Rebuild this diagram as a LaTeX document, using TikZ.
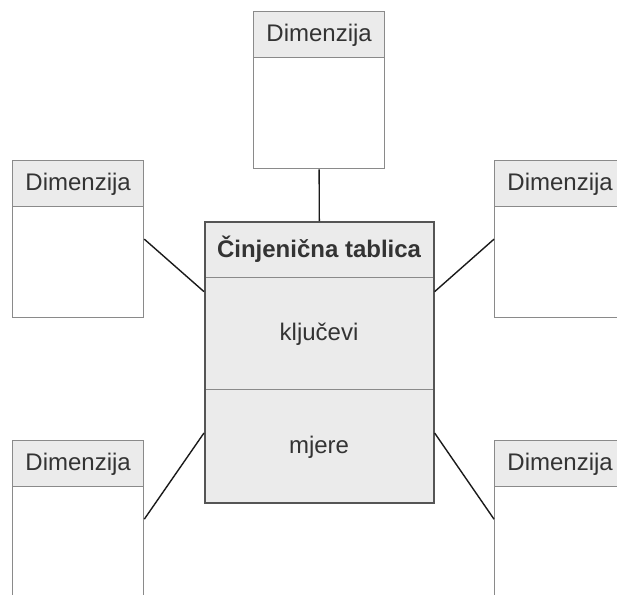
\documentclass[tikz,border=0pt]{standalone}
\usepackage{fontspec}
\setmainfont{Liberation Sans}
\usetikzlibrary{calc}
\definecolor{boxline}{HTML}{8A8A8A}
\definecolor{hdrfill}{HTML}{EBEBEB}
\definecolor{factline}{HTML}{555555}
\definecolor{txt}{HTML}{333333}
\definecolor{conn}{HTML}{1A1A1A}
\tikzset{
  dimbox/.style={draw=boxline, line width=1.3pt, fill=white, minimum width=131pt, minimum height=157pt, anchor=north west, inner sep=0pt},
  dimhdr/.style={draw=boxline, line width=1.3pt, fill=hdrfill, minimum width=131pt, minimum height=46pt, anchor=north west, inner sep=0pt, text=txt, font=\fontsize{24}{28}\selectfont, text height=17pt, text depth=3pt},
  factpart/.style={draw=boxline, line width=1.1pt, fill=hdrfill, minimum width=229pt, anchor=north west, inner sep=0pt, text=txt, font=\fontsize{24}{28}\selectfont, text height=17pt, text depth=3pt},
  factouter/.style={draw=factline, line width=1.6pt, minimum width=229pt, minimum height=281pt, anchor=north west, inner sep=0pt},
  conline/.style={draw=conn, line width=1.4pt}
}
\begin{document}
\begin{tikzpicture}[x=1pt, y=-1pt]
\useasboundingbox (0,0) rectangle (617,594);
\clip (0,0) rectangle (617,594);
% dimension boxes
\node[dimbox] (dtop) at (253,11) {};
\node[dimhdr] (dtoph) at (253,11) {Dimenzija};
\node[dimbox] (dl1) at (12,160) {};
\node[dimhdr] (dl1h) at (12,160) {Dimenzija};
\node[dimbox] (dr1) at (494,160) {};
\node[dimhdr] (dr1h) at (494,160) {Dimenzija};
\node[dimbox] (dl2) at (12,440) {};
\node[dimhdr] (dl2h) at (12,440) {Dimenzija};
\node[dimbox] (dr2) at (494,440) {};
\node[dimhdr] (dr2h) at (494,440) {Dimenzija};
% fact table
\node[factpart, minimum height=56pt, font=\fontsize{24}{28}\selectfont\bfseries, text height=19pt] (facth) at (204,221) {Činjenična tablica};
\node[factpart, minimum height=112pt] (factk) at (204,277) {ključevi};
\node[factpart, minimum height=113pt] (factm) at (204,389) {mjere};
\node[factouter] (fact) at (204,221) {};
% connectors
\draw[conline] (dtop.south) -- (fact.north);
\draw[conline] (dl1.east) -- ($(fact.north west)!0.25!(fact.south west)$);
\draw[conline] (dr1.west) -- ($(fact.north east)!0.25!(fact.south east)$);
\draw[conline] (dl2.east) -- ($(fact.north west)!0.75!(fact.south west)$);
\draw[conline] (dr2.west) -- ($(fact.north east)!0.75!(fact.south east)$);
\end{tikzpicture}
\end{document}
